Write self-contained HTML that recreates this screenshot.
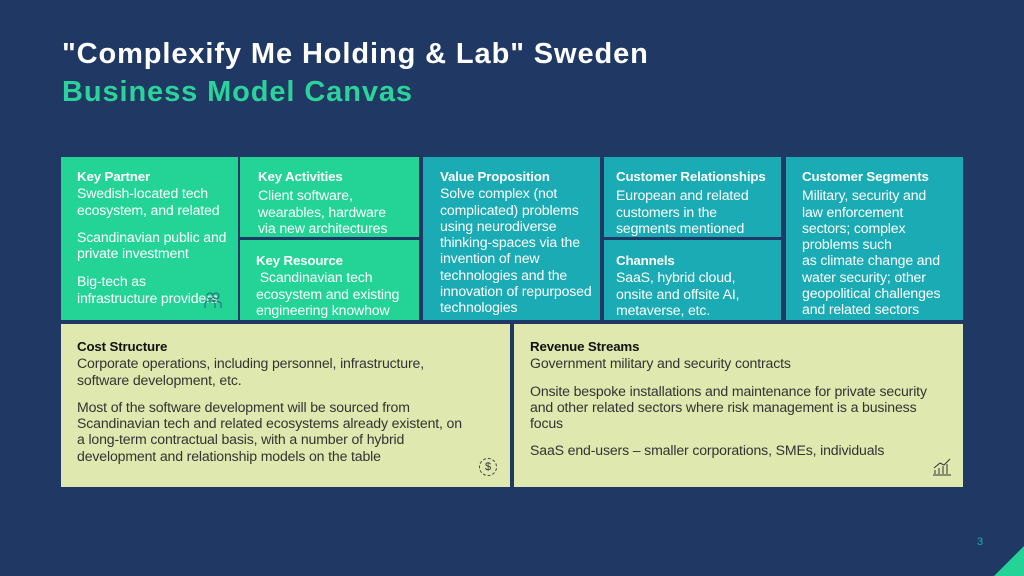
<!DOCTYPE html>
<html><head><meta charset="utf-8"><style>
*{margin:0;padding:0;box-sizing:border-box}
body{width:1024px;height:576px;background:#1f3864;position:relative;overflow:hidden;font-family:"Liberation Sans",sans-serif}
.t{position:absolute;left:62px;font-weight:bold;font-size:29px;letter-spacing:0.9px}
.b{position:absolute}
.g{background:#23d496}.c{background:#1aabb5}.y{background:#dfe8ae}
.tx{position:absolute;font-size:14.1px;line-height:16.3px;color:#fff;white-space:nowrap;letter-spacing:-0.15px}
.tx b{display:block;font-size:13.3px}
.y .tx{color:#333}
.y .tx b{color:#111}
.gap{height:11px}
</style></head><body>
<div class="t" style="top:38px;color:#fff">"Complexify Me Holding &amp; Lab" Sweden</div>
<div class="t" style="top:76px;color:#2bd39a">Business Model Canvas</div>

<div class="b g" style="left:61px;top:157px;width:177px;height:163px">
<div class="tx" style="left:16px;top:12px"><b>Key Partner</b>Swedish-located tech<br>ecosystem, and related<div class="gap"></div>Scandinavian public and<br>private investment<div class="gap" style="height:12px"></div>Big-tech as<br>infrastructure providers</div>
<svg style="position:absolute;left:143px;top:134px" width="18" height="18"><circle cx="6" cy="5" r="3" stroke="#1f3864" fill="none" opacity=".7"/><circle cx="12" cy="5" r="3" stroke="#1f3864" fill="none" opacity=".7"/><path d="M1 17V13Q1 10 6 10Q11 10 11 13V17M8 10Q12 9 17 12V17" stroke="#1f3864" fill="none" opacity=".7"/></svg></div>

<div class="b g" style="left:240px;top:157px;width:179px;height:80px">
<div class="tx" style="left:18px;top:12px"><b>Key Activities</b><span style="display:block;margin-top:2px">Client software,<br>wearables, hardware<br>via new architectures</span></div></div>
<div class="b g" style="left:240px;top:240px;width:179px;height:80px">
<div class="tx" style="left:16px;top:13px"><b>Key Resource</b>&nbsp;Scandinavian tech<br>ecosystem and existing<br>engineering knowhow</div></div>

<div class="b c" style="left:423px;top:157px;width:177px;height:163px">
<div class="tx" style="left:17px;top:12px"><b>Value Proposition</b>Solve complex (not<br>complicated) problems<br>using neurodiverse<br>thinking-spaces via the<br>invention of new<br>technologies and the<br>innovation of repurposed<br>technologies</div></div>

<div class="b c" style="left:604px;top:157px;width:177px;height:80px">
<div class="tx" style="left:12px;top:12px"><b>Customer Relationships</b><span style="display:block;margin-top:2px">European and related<br>customers in the<br>segments mentioned</span></div></div>
<div class="b c" style="left:604px;top:240px;width:177px;height:80px">
<div class="tx" style="left:12px;top:13px"><b>Channels</b>SaaS, hybrid cloud,<br>onsite and offsite AI,<br>metaverse, etc.</div></div>

<div class="b c" style="left:786px;top:157px;width:177px;height:163px">
<div class="tx" style="left:16px;top:12px"><b>Customer Segments</b><span style="display:block;margin-top:2px">Military, security and<br>law enforcement<br>sectors; complex<br>problems such<br>as climate change and<br>water security; other<br>geopolitical challenges<br>and related sectors</span></div></div>

<div class="b y" style="left:61px;top:324px;width:449px;height:163px">
<div class="tx" style="left:16px;top:15px"><b>Cost Structure</b>Corporate operations, including personnel, infrastructure,<br>software development, etc.<div class="gap"></div>Most of the software development will be sourced from<br>Scandinavian tech and related ecosystems already existent, on<br>a long-term contractual basis, with a number of hybrid<br>development and relationship models on the table</div>
<div style="position:absolute;left:418px;top:134px;width:18px;height:18px;border:1px dashed #444;border-radius:50%;font-size:11px;text-align:center;line-height:16px;color:#333">$</div></div>

<div class="b y" style="left:514px;top:324px;width:449px;height:163px">
<div class="tx" style="left:16px;top:15px"><b>Revenue Streams</b>Government military and security contracts<div class="gap"></div>Onsite bespoke installations and maintenance for private security<br>and other related sectors where risk management is a business<br>focus<div class="gap"></div>SaaS end-users – smaller corporations, SMEs, individuals</div>
<svg style="position:absolute;left:418px;top:134px" width="20" height="18"><path d="M1 17H19M3 16V12M7 16V10M11 16V8M15 16V6M2 10L8 5L12 7L18 1" stroke="#333" fill="none"/></svg></div>

<div style="position:absolute;left:977px;top:536px;font-size:11px;color:#1aabb5">3</div>
<div style="position:absolute;right:0;bottom:0;width:0;height:0;border-left:30px solid transparent;border-bottom:30px solid #23d496"></div>
</body></html>
